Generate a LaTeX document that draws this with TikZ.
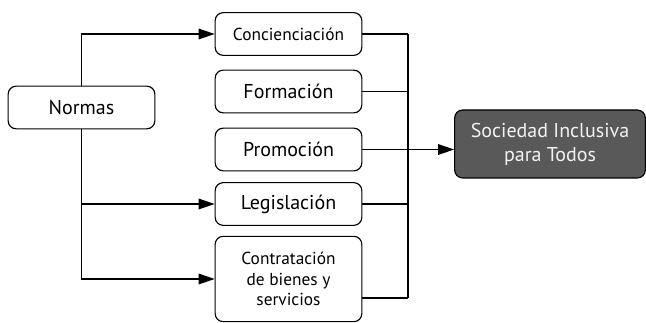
\documentclass[tikz,border=0pt]{standalone}
\usepackage{fontspec}
\setmainfont{PT Sans}
\usetikzlibrary{arrows.meta}
\definecolor{boxgray}{HTML}{595959}
\definecolor{lighttext}{HTML}{F2F2F2}

\begin{document}
\begin{tikzpicture}
  [x=0.75pt,y=-0.75pt,line width=0.85pt,>={Triangle[length=12pt,width=8pt]},
   every node/.style={rectangle, rounded corners=6pt, draw, align=center, inner sep=0pt},
   paso/.style={minimum width=110pt, minimum height=32pt, font=\fontsize{15}{17}\selectfont},
   pasochico/.style={paso, font=\fontsize{13}{15.5}\selectfont},
   meta/.style={minimum width=143pt, minimum height=51pt, fill=boxgray, text=lighttext,
                font=\fontsize{15}{18}\selectfont}]
  \useasboundingbox (0,0) rectangle (646,323);

  \node[paso] (normas) at (81.5,107.5) {Normas};
  \node[pasochico] (conc) at (288.5,34) {Concienciación};
  \node[paso] (form) at (288.5,91.5) {Formación};
  \node[paso] (prom) at (288.5,149.5) {Promoción};
  \node[paso] (legis) at (288.5,204) {Legislación};
  \node[pasochico, minimum height=64pt] (contr) at (288.5,279)
    {Contratación\\de bienes y\\servicios};
  \node[meta] (soc) at (550,144) {Sociedad Inclusiva\\para Todos};

  \coordinate (bus) at (408,34);
  \coordinate (fin) at (408,298);

  % de Normas a los pasos
  \draw[->] (normas.north) |- (conc.west);
  \foreach \to in {legis,contr}
    \draw[->] (normas.south) |- (\to.west);

  % de los pasos al bus
  \foreach \from in {conc,form,prom,legis}
    \draw (\from.east) -- (\from.east -| bus);
  \draw (contr.east |- fin) -- (fin);
  \draw (bus) -- (fin);

  \draw[->] (prom.east) -- (prom.east -| soc.west);

\end{tikzpicture}
\end{document}
